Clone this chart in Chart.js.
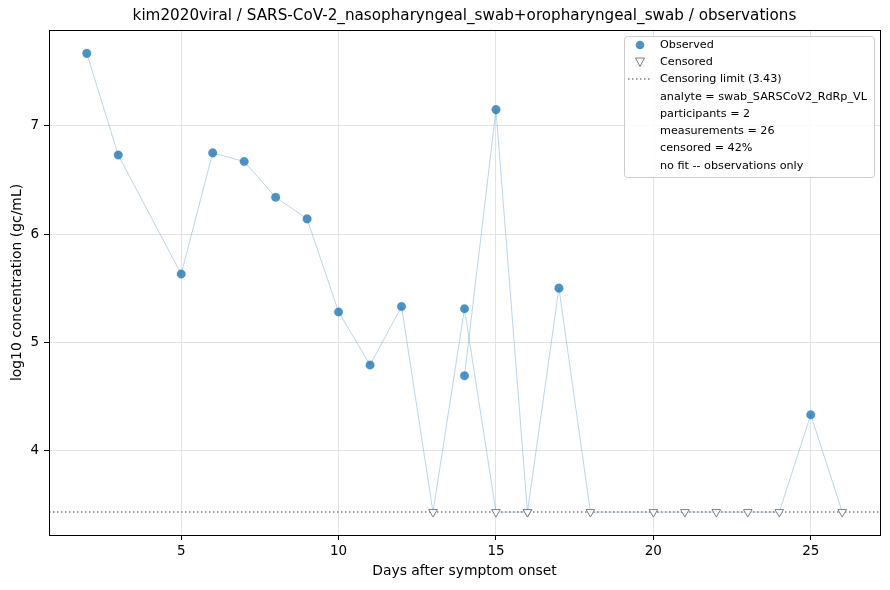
<!DOCTYPE html>
<html>
<head>
<meta charset="utf-8">
<script src="https://cdn.jsdelivr.net/npm/chart.js@4"></script>
<style>
  html, body { margin: 0; padding: 0; background: #fff; }
  #wrap { width: 890px; height: 590px; }
</style>
</head>
<body>
<div id="wrap"><canvas id="chart" width="890" height="590"></canvas></div>
<script>
// participant 1 and 2 trajectories (days after onset, log10 gc/mL, censored flag)
const daysA = [2, 3, 5, 6, 7, 8, 9, 10, 11, 12, 13, 14, 15, 16, 17, 18, 20, 21, 22, 23, 24, 25, 26];
const valuesA = [7.67, 6.73, 5.63, 6.75, 6.67, 6.34, 6.14, 5.28, 4.79, 5.33, 3.43, 5.31, 3.43, 3.43, 5.50, 3.43, 3.43, 3.43, 3.43, 3.43, 3.43, 4.33, 3.43];
const censA = [0, 0, 0, 0, 0, 0, 0, 0, 0, 0, 1, 0, 1, 1, 0, 1, 1, 1, 1, 1, 1, 0, 1];

const daysB = [14, 15, 16];
const valuesB = [4.69, 7.15, 3.43];
const censB = [0, 0, 1];

const censorLimit = 3.43;
const xTicks = [5, 10, 15, 20, 25];
const yTicks = [4, 5, 6, 7];

const titleText = 'kim2020viral / SARS-CoV-2_nasopharyngeal_swab+oropharyngeal_swab / observations';
const legendInfo = [
  'analyte = swab_SARSCoV2_RdRp_VL',
  'participants = 2',
  'measurements = 26',
  'censored = 42%',
  'no fit -- observations only'
];

const FONT = 'DejaVu Sans';

function toPts(days, vals) {
  return days.map((d, i) => ({ x: d, y: vals[i] }));
}
function pick(days, vals, cens, flag) {
  const out = [];
  days.forEach((d, i) => { if (cens[i] === flag) out.push({ x: d, y: vals[i] }); });
  return out;
}

const observed = pick(daysA, valuesA, censA, 0).concat(pick(daysB, valuesB, censB, 0));
const censored = pick(daysA, valuesA, censA, 1).concat(pick(daysB, valuesB, censB, 1));

const xMin = 0.8, xMax = 27.2;

const lineStyle = {
  showLine: true,
  borderColor: 'rgba(31,119,180,0.3)',
  borderWidth: 1,
  pointRadius: 0,
  pointHoverRadius: 0
};

// box around plot, title centred on the plot, legend in upper right
const framePlugin = {
  id: 'frame',
  afterDraw(chart) {
    const { ctx, chartArea: a } = chart;
    ctx.save();
    ctx.strokeStyle = '#000';
    ctx.lineWidth = 1;
    ctx.strokeRect(Math.round(a.left) + 0.5, Math.round(a.top) + 0.5,
      Math.round(a.right - a.left), Math.round(a.bottom - a.top));

    ctx.font = '15.2px ' + FONT;
    ctx.fillStyle = '#000';
    ctx.textAlign = 'center';
    ctx.textBaseline = 'middle';
    ctx.fillText(titleText, (a.left + a.right) / 2, 16);

    // legend
    const bx = 624.5, by = 36.5, bw = 250, bh = 141;
    ctx.beginPath();
    ctx.roundRect(bx, by, bw, bh, 3);
    ctx.fillStyle = 'rgba(255,255,255,0.85)';
    ctx.fill();
    ctx.strokeStyle = '#cccccc';
    ctx.stroke();

    const rowY = [45, 62, 79, 97, 114, 131, 148, 166];
    const tx = 660, mx = 640;
    ctx.font = '11.2px ' + FONT;
    ctx.textAlign = 'left';

    // observed marker
    ctx.beginPath();
    ctx.arc(mx, rowY[0], 4.3, 0, Math.PI * 2);
    ctx.fillStyle = 'rgba(31,119,180,0.8)';
    ctx.fill();
    // censored marker
    ctx.beginPath();
    ctx.moveTo(mx - 4.5, rowY[1] - 4);
    ctx.lineTo(mx + 4.5, rowY[1] - 4);
    ctx.lineTo(mx, rowY[1] + 4.5);
    ctx.closePath();
    ctx.fillStyle = '#fff';
    ctx.fill();
    ctx.strokeStyle = '#808080';
    ctx.lineWidth = 1;
    ctx.stroke();
    // limit line
    ctx.beginPath();
    ctx.setLineDash([1.5, 2.5]);
    ctx.moveTo(628, rowY[2]);
    ctx.lineTo(652, rowY[2]);
    ctx.strokeStyle = '#808080';
    ctx.lineWidth = 1.5;
    ctx.stroke();
    ctx.setLineDash([]);

    const labels = ['Observed', 'Censored', 'Censoring limit (' + censorLimit.toFixed(2) + ')'].concat(legendInfo);
    ctx.fillStyle = '#000';
    labels.forEach((t, i) => ctx.fillText(t, tx, rowY[i]));
    ctx.restore();
  }
};

new Chart(document.getElementById('chart'), {
  type: 'scatter',
  data: {
    datasets: [
      Object.assign({ label: 'participant 1', data: toPts(daysA, valuesA), order: 5 }, lineStyle),
      Object.assign({ label: 'participant 2', data: toPts(daysB, valuesB), order: 5 }, lineStyle),
      {
        label: 'Censoring limit',
        data: [{ x: xMin, y: censorLimit }, { x: xMax, y: censorLimit }],
        showLine: true,
        borderColor: '#808080',
        borderWidth: 1.5,
        borderDash: [1.5, 2.5],
        pointRadius: 0,
        order: 4
      },
      {
        label: 'Censored',
        data: censored,
        pointStyle: 'triangle',
        rotation: 180,
        pointRadius: 5,
        backgroundColor: 'rgba(255,255,255,0.9)',
        borderColor: '#808080',
        borderWidth: 1,
        order: 2
      },
      {
        label: 'Observed',
        data: observed,
        pointRadius: 4.3,
        backgroundColor: 'rgba(31,119,180,0.8)',
        borderColor: 'rgba(31,119,180,0.5)',
        borderWidth: 0.5,
        order: 1
      }
    ]
  },
  options: {
    responsive: false,
    animation: false,
    layout: { padding: { left: 0, right: 10, top: 30, bottom: 0 } },
    plugins: {
      legend: { display: false },
      tooltip: { enabled: false },
      title: { display: false }
    },
    scales: {
      x: {
        type: 'linear',
        min: xMin,
        max: xMax,
        afterBuildTicks: axis => { axis.ticks = xTicks.map(v => ({ value: v })); },
        afterFit: axis => { axis.height = 55; },
        ticks: { color: '#000', font: { family: FONT, size: 13.5 }, padding: 3 },
        grid: { color: '#e3e3e3', tickColor: '#000', tickLength: 5 },
        border: { color: '#000' },
        title: {
          display: true,
          text: 'Days after symptom onset',
          color: '#000',
          font: { family: FONT, size: 13.9 },
          padding: { top: 0, bottom: 10 }
        }
      },
      y: {
        type: 'linear',
        min: 3.218,
        max: 7.886,
        afterBuildTicks: axis => { axis.ticks = yTicks.map(v => ({ value: v })); },
        afterFit: axis => { axis.width = 49; },
        ticks: { color: '#000', font: { family: FONT, size: 13.5 }, padding: 5 },
        grid: { color: '#e3e3e3', tickColor: '#000', tickLength: 5 },
        border: { color: '#000' },
        title: {
          display: true,
          text: 'log10 concentration (gc/mL)',
          color: '#000',
          font: { family: FONT, size: 13.9 },
          padding: { top: 9, bottom: 0 }
        }
      }
    }
  },
  plugins: [framePlugin]
});
</script>
</body>
</html>
